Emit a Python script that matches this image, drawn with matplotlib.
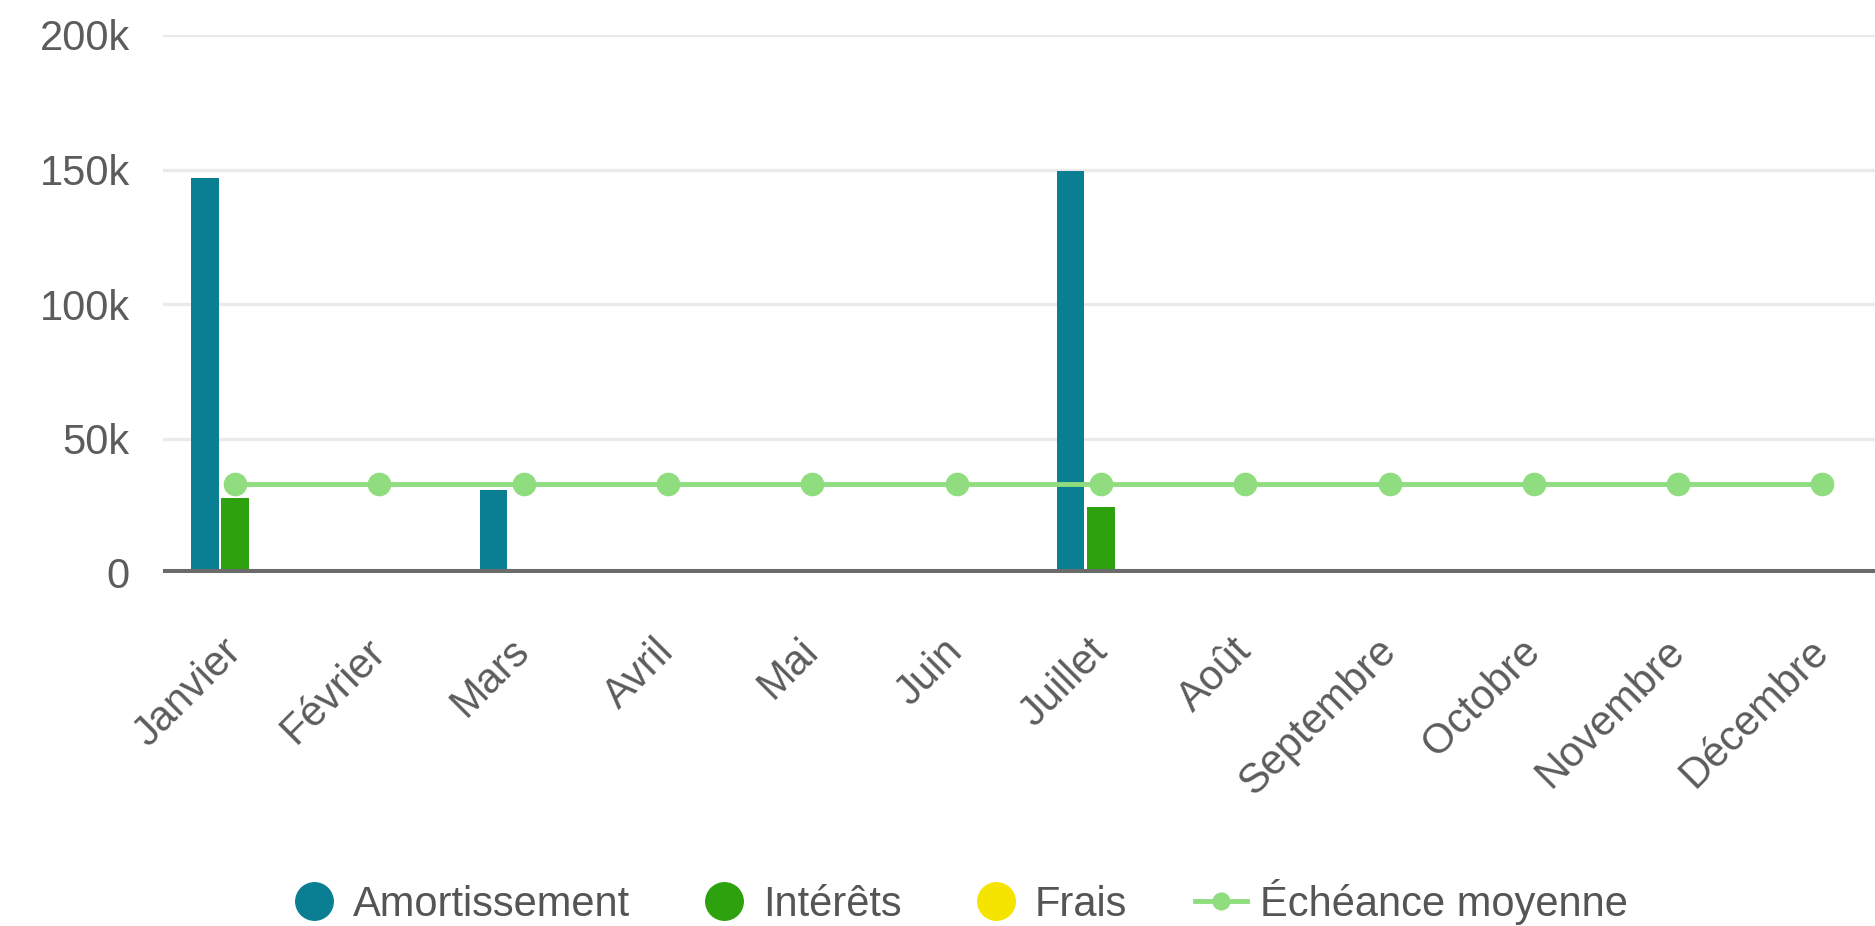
import matplotlib
matplotlib.use("Agg")
import matplotlib.pyplot as plt
from matplotlib.lines import Line2D
from matplotlib.transforms import ScaledTranslation
import numpy as np

months = ["Janvier", "Février", "Mars", "Avril", "Mai", "Juin", "Juillet",
          "Août", "Septembre", "Octobre", "Novembre", "Décembre"]
amortissement = [147000, 0, 31000, 0, 0, 0, 149300, 0, 0, 0, 0, 0]
interets = [27900, 0, 400, 0, 0, 0, 24600, 0, 0, 0, 0, 0]
frais = [0, 0, 0, 0, 0, 0, 0, 0, 0, 0, 0, 0]
echeance_moyenne = [33000, 33000, 33000, 33000, 33000, 33000, 33000,
                    33000, 33000, 33000, 33000, 33000]
y_ticks = [0, 50000, 100000, 150000, 200000]
y_tick_labels = ["0", "50k", "100k", "150k", "200k"]
series_names = ["Amortissement", "Intérêts", "Frais", "Échéance moyenne"]

C_AMORT = "#0a7f93"
C_INT = "#2ea10f"
C_FRAIS = "#f5e400"
C_LINE = "#8fdd7e"
TXT = "#5c5c5c"

plt.rcParams['font.family'] = ['Liberation Sans', 'DejaVu Sans']

W, H = 1875, 926
fig = plt.figure(figsize=(W / 100, H / 100), dpi=100)
left_px, right_px = 163, 163 + 12 * 144.3
top_px, bot_px = 35, 573
ax = fig.add_axes([left_px / W, 1 - bot_px / H, (right_px - left_px) / W, (bot_px - top_px) / H])

x = np.arange(len(months))
bw = 0.19
off = 0.21
ax.bar(x - off, amortissement, width=bw, color=C_AMORT, zorder=2)
ax.bar(x, interets, width=bw, color=C_INT, zorder=2)
ax.bar(x + off, frais, width=bw, color=C_FRAIS, zorder=2)
ax.plot(x, echeance_moyenne, color=C_LINE, lw=3.5, marker='o', markersize=16,
        markerfacecolor=C_LINE, markeredgecolor=C_LINE, zorder=4)

ax.set_xlim(-0.5, len(months) - 0.5)
ax.set_ylim(0, 200000)
ax.set_yticks(y_ticks)
ax.set_yticklabels(y_tick_labels)
ax.yaxis.grid(True, color="#eaeaea", lw=2.4, zorder=0)
ax.set_axisbelow(True)
ax.axhline(0, color="#6b6b6b", lw=5.8, zorder=3)
for s in ax.spines.values():
    s.set_visible(False)

ax.tick_params(axis='y', length=0, pad=24, labelsize=30, labelcolor=TXT)
ax.tick_params(axis='x', length=0, pad=52, labelsize=30, labelcolor=TXT)
ax.set_xticks(x)
ax.set_xticklabels(months, rotation=45, ha='right', va='center',
                   rotation_mode='anchor')
for lab in ax.get_xticklabels():
    lab.set_transform(lab.get_transform() + ScaledTranslation(0.0, 0, fig.dpi_scale_trans))

handles = [
    Line2D([], [], marker='o', linestyle='none', markersize=27, color=C_AMORT),
    Line2D([], [], marker='o', linestyle='none', markersize=27, color=C_INT),
    Line2D([], [], marker='o', linestyle='none', markersize=27, color=C_FRAIS),
    Line2D([], [], marker='o', color=C_LINE, lw=3.5, markersize=12),
]
leg = fig.legend(handles, series_names, loc='center', bbox_to_anchor=(958 / W, 1 - 902 / H),
                 ncol=4, frameon=False, fontsize=30, handlelength=1.25,
                 handletextpad=0.31, columnspacing=1.63, borderpad=0)
for t in leg.get_texts():
    t.set_color("#555555")

fig.savefig("out.png", dpi=100)
